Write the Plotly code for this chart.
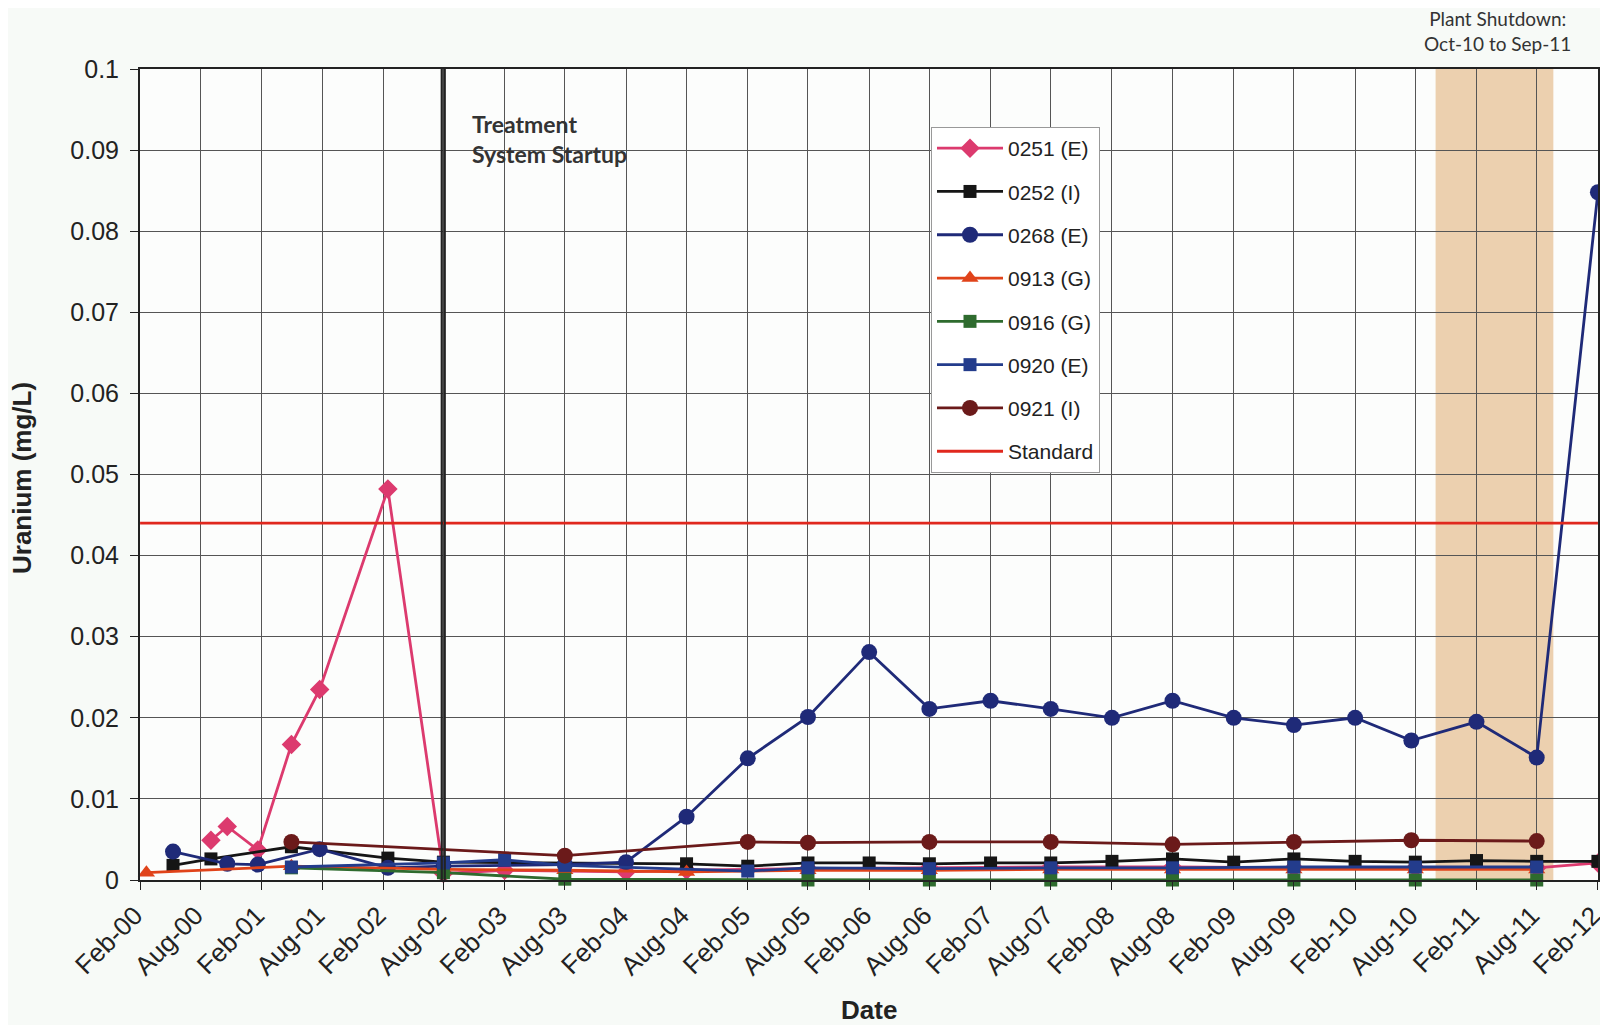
import plotly.graph_objects as go

# ---------------- data ----------------
d_0251 = ["2000-09-01", "2000-10-20", "2001-01-20", "2001-05-01", "2001-07-25", "2002-02-15",
          "2002-08-01", "2003-02-01", "2004-02-01", "2004-08-01", "2005-08-01", "2006-08-01",
          "2007-08-01", "2008-08-01", "2009-08-01", "2010-08-01", "2011-08-01", "2012-02-01"]
v_0251 = [0.0049, 0.0066, 0.0037, 0.0167, 0.0235, 0.0482,
          0.0008, 0.0012, 0.0010, 0.0012, 0.0014, 0.0015,
          0.0016, 0.0016, 0.0015, 0.0015, 0.0015, 0.0021]

d_0252 = ["2000-05-10", "2000-09-01", "2001-05-01", "2002-02-15", "2002-08-01", "2004-08-01",
          "2005-02-01", "2005-08-01", "2006-02-01", "2006-08-01", "2007-02-01", "2007-08-01",
          "2008-02-01", "2008-08-01", "2009-02-01", "2009-08-01", "2010-02-01", "2010-08-01",
          "2011-02-01", "2011-08-01", "2012-02-01"]
v_0252 = [0.0018, 0.0026, 0.0041, 0.0027, 0.0022, 0.0020,
          0.0017, 0.0021, 0.0021, 0.0020, 0.0021, 0.0021,
          0.0023, 0.0026, 0.0022, 0.0026, 0.0023, 0.0022,
          0.0024, 0.0023, 0.0023]

d_0268 = ["2000-05-10", "2000-10-20", "2001-01-20", "2001-07-25", "2002-02-15", "2002-08-01",
          "2003-08-01", "2004-02-01", "2004-08-01", "2005-02-01", "2005-08-01", "2006-02-01",
          "2006-08-01", "2007-02-01", "2007-08-01", "2008-02-01", "2008-08-01", "2009-02-01",
          "2009-08-01", "2010-02-01", "2010-07-20", "2011-02-01", "2011-08-01", "2012-02-01"]
v_0268 = [0.0035, 0.0020, 0.0019, 0.0038, 0.0015, 0.0017,
          0.0019, 0.0022, 0.0078, 0.0150, 0.0201, 0.0281,
          0.0211, 0.0221, 0.0211, 0.0200, 0.0221, 0.0200,
          0.0191, 0.0200, 0.0172, 0.0195, 0.0151, 0.0848]

d_0913 = ["2000-02-20", "2001-05-01", "2002-08-01", "2003-08-01", "2004-08-01", "2005-08-01",
          "2006-08-01", "2007-08-01", "2008-08-01", "2009-08-01", "2010-08-01", "2011-08-01"]
v_0913 = [0.0009, 0.0017, 0.0013, 0.0012, 0.0010, 0.0012,
          0.0012, 0.0013, 0.0013, 0.0013, 0.0013, 0.0013]

d_0916 = ["2001-05-01", "2002-08-01", "2003-08-01", "2005-08-01", "2006-08-01", "2007-08-01",
          "2008-08-01", "2009-08-01", "2010-08-01", "2011-08-01"]
v_0916 = [0.0015, 0.0009, 0.0001, 0.0000, 0.0000, 0.0000,
          0.0000, 0.0000, 0.0000, 0.0000]

d_0920 = ["2001-05-01", "2002-08-01", "2003-02-01", "2003-08-01", "2005-02-01", "2005-08-01",
          "2006-08-01", "2007-08-01", "2008-08-01", "2009-08-01", "2010-08-01", "2011-08-01"]
v_0920 = [0.0016, 0.0021, 0.0025, 0.0018, 0.0011, 0.0015,
          0.0014, 0.0015, 0.0015, 0.0016, 0.0016, 0.0016]

d_0921 = ["2001-05-01", "2003-08-01", "2005-02-01", "2005-08-01", "2006-08-01", "2007-08-01",
          "2008-08-01", "2009-08-01", "2010-07-20", "2011-08-01"]
v_0921 = [0.0047, 0.0030, 0.0047, 0.0046, 0.0047, 0.0047,
          0.0044, 0.0047, 0.0049, 0.0048]

d_standard = ["2000-02-01", "2012-02-01"]
v_standard = [0.044, 0.044]

x_tickvals = ["2000-02-01", "2000-08-01", "2001-02-01", "2001-08-01", "2002-02-01", "2002-08-01",
              "2003-02-01", "2003-08-01", "2004-02-01", "2004-08-01", "2005-02-01", "2005-08-01",
              "2006-02-01", "2006-08-01", "2007-02-01", "2007-08-01", "2008-02-01", "2008-08-01",
              "2009-02-01", "2009-08-01", "2010-02-01", "2010-08-01", "2011-02-01", "2011-08-01",
              "2012-02-01"]
x_ticktext = ["Feb-00", "Aug-00", "Feb-01", "Aug-01", "Feb-02", "Aug-02", "Feb-03", "Aug-03",
              "Feb-04", "Aug-04", "Feb-05", "Aug-05", "Feb-06", "Aug-06", "Feb-07", "Aug-07",
              "Feb-08", "Aug-08", "Feb-09", "Aug-09", "Feb-10", "Aug-10", "Feb-11", "Aug-11",
              "Feb-12"]
y_tickvals = [0, 0.01, 0.02, 0.03, 0.04, 0.05, 0.06, 0.07, 0.08, 0.09, 0.1]
y_ticktext = ["0", "0.01", "0.02", "0.03", "0.04", "0.05", "0.06", "0.07", "0.08", "0.09", "0.1"]

startup_date = "2002-08-01"
shutdown_start = "2010-10-01"
shutdown_end = "2011-09-20"

# ---------------- layout geometry (page pixels; page body has an 8px margin) ----------------
W, H = 1600, 1017
L, T = 132, 61
PW, PH = 1458, 811
R = W - L - PW
B = H - T - PH


def px_x(px):  # page x -> paper x
    return (px - 8 - L) / PW


def px_y(py):  # page y -> paper y
    return (T + PH - (py - 8)) / PH


# ---------------- figure ----------------
fig = go.Figure()

series = [
    ("0251 (E)", d_0251, v_0251, "#DC3A6E", "diamond", 15),
    ("0252 (I)", d_0252, v_0252, "#151515", "square", 13),
    ("0268 (E)", d_0268, v_0268, "#1F2A78", "circle", 16),
    ("0913 (G)", d_0913, v_0913, "#E0431A", "triangle-up", 15),
    ("0916 (G)", d_0916, v_0916, "#2E6B2E", "square", 13),
    ("0920 (E)", d_0920, v_0920, "#233C8C", "square", 13),
    ("0921 (I)", d_0921, v_0921, "#6B1A1A", "circle", 16),
]

for name, d, v, col, sym, size in series:
    fig.add_trace(go.Scatter(
        x=d, y=v, name=name, mode="lines+markers",
        line=dict(color=col, width=2.8),
        marker=dict(symbol=sym, size=size, color=col),
        legendgroup=name, cliponaxis=False,
    ))

fig.add_trace(go.Scatter(
    x=d_standard, y=v_standard, name="Standard", mode="lines",
    line=dict(color="#E0281E", width=2.8), legendgroup="Standard",
))

# shutdown shading
fig.add_shape(type="rect", xref="x", yref="paper", x0=shutdown_start, x1=shutdown_end,
              y0=0, y1=1, fillcolor="#EACBA6", opacity=0.9, line=dict(width=0), layer="below")
# treatment startup line (double)
for xd in ["2002-07-27", "2002-08-05"]:
    fig.add_shape(type="line", xref="x", yref="paper", x0=xd, x1=xd,
                  y0=0, y1=1, line=dict(color="#222222", width=2.2))

fig.add_annotation(x=px_x(470), xref="paper", y=px_y(108), yref="paper", xanchor="left",
                   yanchor="top", text="<b>Treatment<br>System Startup</b>", showarrow=False,
                   align="left", font=dict(family="Lato", size=23, color="#333333"))
fig.add_annotation(x=px_x(1497), xref="paper", y=px_y(31), yref="paper",
                   text="Plant Shutdown:<br>Oct-10 to Sep-11", showarrow=False, align="center",
                   xanchor="center", yanchor="middle",
                   font=dict(family="Lato", size=19, color="#333333"))
fig.add_annotation(x=0.5, xref="paper", y=px_y(1010), yref="paper", text="<b>Date</b>",
                   showarrow=False, xanchor="center", yanchor="middle",
                   font=dict(family="Liberation Sans", size=26, color="#222222"))
fig.add_annotation(x=px_x(22), xref="paper", y=px_y(478), yref="paper",
                   text="<b>Uranium (mg/L)</b>", textangle=-90, showarrow=False,
                   xanchor="center", yanchor="middle",
                   font=dict(family="Liberation Sans", size=26, color="#222222"))

fig.update_layout(
    width=W, height=H,
    margin=dict(l=L, r=R, t=T, b=B, autoexpand=False),
    paper_bgcolor="#F7FAF7", plot_bgcolor="#FCFDFC",
    showlegend=True,
    legend=dict(x=px_x(931), y=px_y(127), xanchor="left", yanchor="top",
                bgcolor="#FFFFFF", bordercolor="#999999", borderwidth=1,
                font=dict(family="Liberation Sans", size=21, color="#222222"),
                tracegroupgap=13, itemwidth=66),
    font=dict(family="Liberation Sans", color="#222222"),
)

fig.update_xaxes(
    type="date", range=["2000-01-31 18:00", "2012-02-01 06:00"],
    tickvals=x_tickvals, ticktext=x_ticktext, tickangle=-45, automargin=False,
    tickfont=dict(size=26, color="#222222"), ticklabeloverflow="allow", ticklabelshift=-5,
    showgrid=True, gridcolor="#555555", gridwidth=1,
    showline=True, linecolor="#222222", linewidth=2, mirror=True,
    ticks="outside", ticklen=8, tickcolor="#222222", zeroline=False,
)
fig.update_yaxes(
    range=[0, 0.1], tickvals=y_tickvals, ticktext=y_ticktext, automargin=False,
    tickfont=dict(size=25, color="#222222"), ticklabelstandoff=6,
    showgrid=True, gridcolor="#555555", gridwidth=1,
    showline=True, linecolor="#222222", linewidth=2, mirror=True,
    ticks="outside", ticklen=8, tickcolor="#222222", zeroline=False,
)

fig.write_html("out.html")
